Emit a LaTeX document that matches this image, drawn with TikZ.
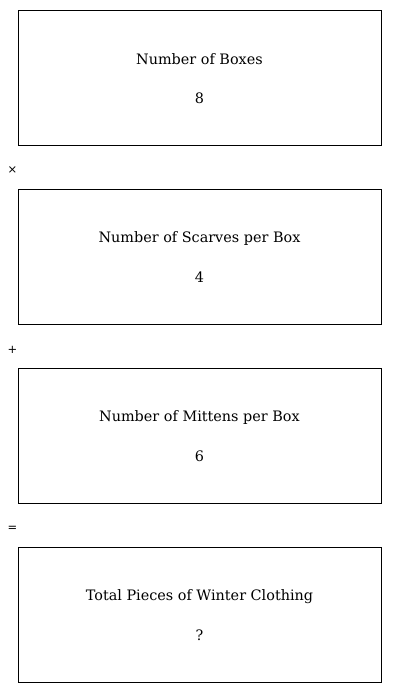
\documentclass[tikz,border=0pt]{standalone}
\usepackage{fontspec}
\setmainfont{DejaVu Serif}
\newfontfamily\opfont{DejaVu Sans}
\begin{document}
\begin{tikzpicture}[x=1pt,y=-1pt,
  box/.style={draw=black,line width=0.8pt,minimum width=363pt,minimum height=135pt,inner sep=0pt},
  lbl/.style={font=\fontsize{14.4}{17}\selectfont},
  op/.style={font=\opfont\fontsize{11.5}{13}\selectfont}]
\useasboundingbox (0,0) rectangle (400,693);
\foreach \i/\y/\t/\n in {1/77.5/Number of Boxes/8, 2/256.5/Number of Scarves per Box/4, 3/435.5/Number of Mittens per Box/6, 4/614.5/Total Pieces of Winter Clothing/?} {
  \node[box] (b\i) at (199.5,\y) {};
  \node[lbl] (t\i) at (199.5,\y-18) {\t};
  \node[lbl] (n\i) at (199.5,\y+21) {\n};
}
\node[op] (o1) at (12.5,170.5) {×};
\node[op] (o2) at (12.5,349.5) {+};
\node[op] (o3) at (12.5,528.5) {=};
\end{tikzpicture}
\end{document}
